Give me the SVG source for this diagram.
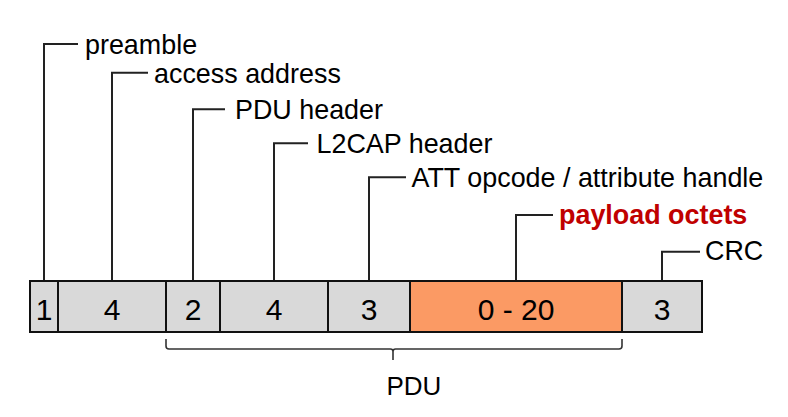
<svg xmlns="http://www.w3.org/2000/svg" width="788" height="417" viewBox="0 0 788 417">
<style>
.bx{stroke:#111;stroke-width:2;fill:#d9d9d9}
.or{fill:#fb9a64}
.ld{fill:none;stroke:#222;stroke-width:2}
.br{fill:none;stroke:#333;stroke-width:1.6;stroke-linejoin:round}
.lb{font-family:"Liberation Sans",Arial,sans-serif;font-size:26.9px;fill:#000}
.pl{font-weight:bold;fill:#c00000}
.nm{font-family:"Liberation Sans",Arial,sans-serif;font-size:30px;fill:#000;text-anchor:middle}
</style>
<rect width="788" height="417" fill="#fff"/>
<g id="connectors">
<path class="ld" d="M44,281V44H78"/>
<path class="ld" d="M112,281V72.7H148"/>
<path class="ld" d="M193,281V109.3H225"/>
<path class="ld" d="M274,281V143.3H308"/>
<path class="ld" d="M369,281V177.3H406"/>
<path class="ld" d="M516,281V215H553"/>
<path class="ld" d="M662,281V251.7H700"/>
<path class="br" d="M166,339V346Q166,349 169,349H390.5Q393,349 393,351.5V360M393,351.5Q393,349 395.5,349H619Q622,349 622,346V339"/>
</g>
<g id="preamble"><rect class="bx" x="30" y="281" width="28" height="51"/><text class="nm" x="44" y="319.5">1</text><text class="lb" x="85" y="53.5">preamble</text></g>
<g id="access-address"><rect class="bx" x="58" y="281" width="108" height="51"/><text class="nm" x="112" y="319.5">4</text><text class="lb" x="154" y="82.5">access address</text></g>
<g id="pdu-header"><rect class="bx" x="166" y="281" width="54" height="51"/><text class="nm" x="193" y="319.5">2</text><text class="lb" x="235" y="118.8">PDU header</text></g>
<g id="l2cap-header"><rect class="bx" x="220" y="281" width="108" height="51"/><text class="nm" x="274" y="319.5">4</text><text class="lb" x="316.5" y="152.8">L2CAP header</text></g>
<g id="att"><rect class="bx" x="328" y="281" width="82" height="51"/><text class="nm" x="369" y="319.5">3</text><text class="lb" x="411.5" y="186.8">ATT opcode / attribute handle</text></g>
<g id="payload"><rect class="bx or" x="410" y="281" width="212" height="51"/><text class="nm" x="516" y="319.5">0 - 20</text><text class="lb pl" x="559" y="224">payload octets</text></g>
<g id="crc"><rect class="bx" x="622" y="281" width="80" height="51"/><text class="nm" x="662" y="319.5">3</text><text class="lb" x="705" y="260">CRC</text></g>
<g id="pdu"><text class="lb" x="386.5" y="395" style="font-size:26px">PDU</text></g>
</svg>
